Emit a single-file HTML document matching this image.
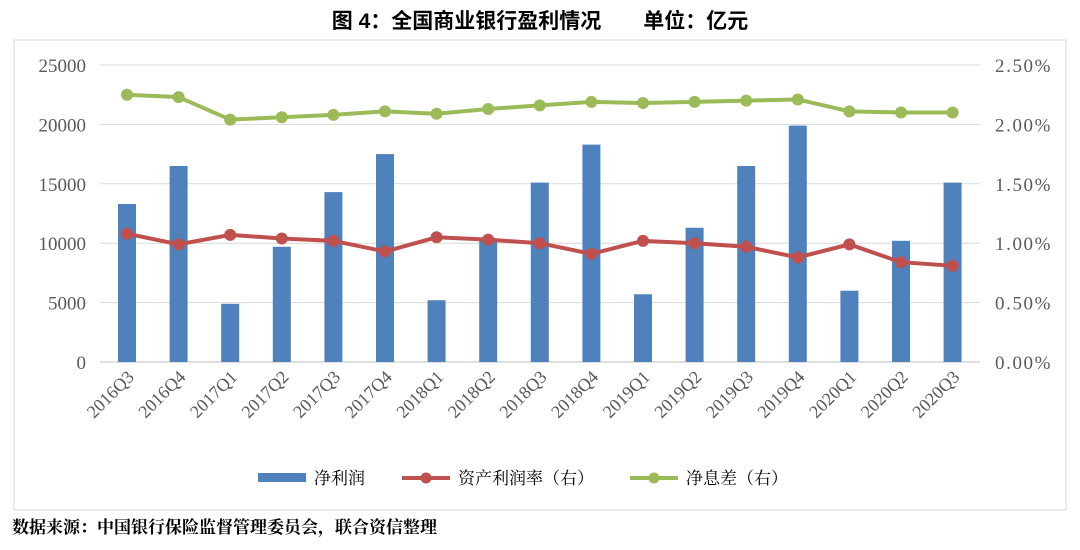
<!DOCTYPE html>
<html><head><meta charset="utf-8"><style>
body{margin:0;background:#fff;width:1080px;height:545px;overflow:hidden}
svg text{font-family:"Liberation Serif","Noto Serif CJK SC",serif}
</style></head><body>
<svg width="1080" height="545">
<text x="540" y="28" text-anchor="middle" font-size="21" font-weight="bold" style="font-family:'Liberation Sans','Noto Sans CJK SC',sans-serif">图 4：全国商业银行盈利情况　　单位：亿元</text>
<rect x="14" y="40" width="1052" height="470" fill="none" stroke="#d9d9d9"/>
<g id="grid"></g><g id="bars"></g><g id="lines"></g><g id="axes"></g>
<g>
<rect x="258" y="473" width="48" height="9" fill="#4f81bd"/>
<text x="314" y="484" font-size="17" style="font-family:'Liberation Serif','Noto Serif CJK SC',serif">净利润</text>
<line x1="402" y1="478" x2="450" y2="478" stroke="#c0504d" stroke-width="4"/>
<circle cx="426" cy="478" r="5.5" fill="#c0504d"/>
<text x="458" y="484" font-size="17" style="font-family:'Liberation Serif','Noto Serif CJK SC',serif">资产利润率（右）</text>
<line x1="630" y1="478" x2="678" y2="478" stroke="#9bbb59" stroke-width="4"/>
<circle cx="654" cy="478" r="5.5" fill="#9bbb59"/>
<text x="686" y="484" font-size="17" style="font-family:'Liberation Serif','Noto Serif CJK SC',serif">净息差（右）</text>
</g>
<text x="12" y="533" font-size="17" font-weight="bold" style="font-family:'Liberation Serif','Noto Serif CJK SC',serif">数据来源：中国银行保险监督管理委员会，联合资信整理</text>
</svg>
<script>
const categories=["2016Q3","2016Q4","2017Q1","2017Q2","2017Q3","2017Q4","2018Q1","2018Q2","2018Q3","2018Q4","2019Q1","2019Q2","2019Q3","2019Q4","2020Q1","2020Q2","2020Q3"];
const netProfit=[13300,16500,4900,9700,14300,17500,5200,10350,15100,18300,5700,11300,16500,19900,6000,10200,15100];
const roa=[1.08,0.99,1.07,1.04,1.02,0.93,1.05,1.03,1.00,0.91,1.02,1.00,0.97,0.88,0.99,0.84,0.81];
const nim=[2.25,2.23,2.04,2.06,2.08,2.11,2.09,2.13,2.16,2.19,2.18,2.19,2.20,2.21,2.11,2.10,2.10];
const leftTicks=[0,5000,10000,15000,20000,25000];
const rightTicks=["0.00%","0.50%","1.00%","1.50%","2.00%","2.50%"];
const NS="http://www.w3.org/2000/svg";
const y0=362,yTop=65,x0=127,dx=51.6;
const yL=v=>y0-(v/25000)*(y0-yTop);
const yR=v=>y0-(v/2.5)*(y0-yTop);
const xC=i=>x0+i*dx;
function mk(t,a,p){const e=document.createElementNS(NS,t);for(const k in a)e.setAttribute(k,a[k]);p.appendChild(e);return e;}
const grid=document.getElementById('grid'),bars=document.getElementById('bars'),lines=document.getElementById('lines'),axes=document.getElementById('axes');
leftTicks.forEach((v,i)=>{
 const g=mk('line',{x1:100,x2:980,y1:yL(v),y2:yL(v),stroke:v===0?'#bfbfbf':'#d9d9d9'},grid);
 
 
 const t=mk('text',{x:86,y:yL(v)+7,'text-anchor':'end','font-size':19,fill:'#595959'},axes);t.textContent=v;
 
 
 const r=mk('text',{x:995,y:yL(v)+7,'font-size':19,fill:'#595959','letter-spacing':'1.6'},axes);r.textContent=rightTicks[i];
 
 
});
categories.forEach((c,i)=>{
 const b=mk('rect',{x:xC(i)-9,y:yL(netProfit[i]),width:18,height:y0-yL(netProfit[i]),fill:'#4f81bd'},bars);
 
 
 const t=mk('text',{x:xC(i)+8,y:378,'text-anchor':'end','font-size':18,fill:'#595959',transform:`rotate(-45 ${xC(i)+8} 378)`},axes);t.textContent=c;
 
 
});
function series(arr,col,name){
 const p=mk('polyline',{points:arr.map((v,i)=>xC(i)+','+yR(v)).join(' '),fill:'none',stroke:col,'stroke-width':4},lines);
 
 
 arr.forEach((v,i)=>{const c=mk('circle',{cx:xC(i),cy:yR(v),r:6,fill:col},lines);
 
 });
}
series(roa,'#c0504d','roa');
series(nim,'#9bbb59','nim');
</script>
</body></html>
